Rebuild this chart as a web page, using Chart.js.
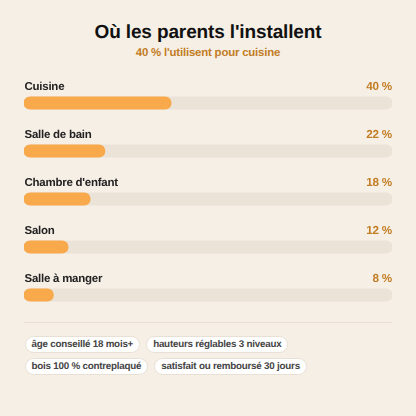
<!DOCTYPE html>
<html lang="fr">
<head>
<meta charset="utf-8">
<script src="https://cdn.jsdelivr.net/npm/chart.js@4"></script>
<style>
html,body{margin:0;padding:0;background:#f6efe6;width:416px;height:416px;overflow:hidden;font-family:"Liberation Sans",sans-serif;text-rendering:geometricPrecision;}
#title{position:absolute;left:0;width:416px;top:20px;text-align:center;font-size:19px;letter-spacing:-0.13px;line-height:26px;font-weight:700;color:#111;}
#sub{position:absolute;left:0;width:416px;top:46px;text-align:center;font-size:11.4px;letter-spacing:-0.18px;line-height:15px;font-weight:700;color:#c27c23;}
#wrap{position:absolute;left:24px;top:60px;width:368px;height:260px;}
#rule{position:absolute;left:24px;top:322px;width:368px;height:1px;background:#e8e0d4;}
#chips{position:absolute;left:24.5px;top:335.5px;width:367px;display:flex;flex-wrap:wrap;gap:5.5px 6px;}
.chip{box-sizing:border-box;height:17px;line-height:15px;padding:0 6px;background:#fff;border:1px solid #e8e0d4;border-radius:8.5px;font-size:9.8px;letter-spacing:-0.22px;font-weight:700;color:#444;white-space:nowrap;}
</style>
</head>
<body>
<div id="title">Où les parents l'installent</div>
<div id="sub">40 % l'utilisent pour cuisine</div>
<div id="wrap"><canvas id="myChart" width="368" height="260"></canvas></div>
<div id="rule"></div>
<div id="chips"></div>
<script>
var categories = ["Cuisine", "Salle de bain", "Chambre d'enfant", "Salon", "Salle à manger"];
var shares = [40, 22, 18, 12, 8];
var track = [100, 100, 100, 100, 100];
var chipLabels = ["âge conseillé 18 mois+", "hauteurs réglables 3 niveaux", "bois 100 % contreplaqué", "satisfait ou remboursé 30 jours"];

chipLabels.forEach(function(t){
    var s = document.createElement("span");
    s.className = "chip";
    s.textContent = t;
    document.getElementById("chips").appendChild(s);
});

// row name and percent sit above each bar
var rowLabels = {
    id: "rowLabels",
    afterDatasetsDraw: function(chart){
        var c = chart.ctx, y = chart.scales.y, a = chart.chartArea;
        c.save();
        c.textRendering = "geometricPrecision";
        c.letterSpacing = "-0.25px";
        c.textBaseline = "middle";
        categories.forEach(function(name, i){
            var py = y.getPixelForValue(i) - 16.5;
            c.font = "700 11.5px 'Liberation Sans'";
            c.textAlign = "left";
            c.fillStyle = "#222";
            c.fillText(name, a.left + 0.5, py);
            c.font = "700 11.7px 'Liberation Sans'";
            c.textAlign = "right";
            c.fillStyle = "#c27c23";
            c.fillText(shares[i] + " %", a.right, py);
        });
        c.restore();
    }
};

new Chart("myChart", {
    type: "bar",
    plugins: [rowLabels],
    data: {
        labels: categories,
        datasets: [
            {data: shares, backgroundColor: "#f8a94c", order: 1},
            {data: track, backgroundColor: "#ebe3d7", order: 2}
        ]
    },
    options: {
        indexAxis: "y",
        responsive: false,
        animation: false,
        layout: {padding: {top: 19, bottom: 1, left: 0, right: 0}},
        datasets: {bar: {grouped: false, barThickness: 12.5, borderRadius: 6.25, borderSkipped: false}},
        plugins: {legend: {display: false}, title: {display: false}, tooltip: {enabled: false}},
        scales: {
            x: {display: false, min: 0, max: 100},
            y: {display: false}
        }
    }
});
</script>
</body>
</html>
